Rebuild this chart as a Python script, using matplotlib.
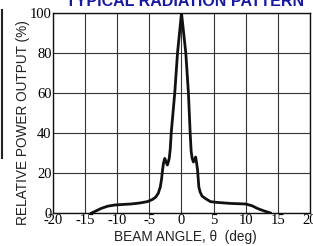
import numpy as np
import matplotlib
matplotlib.use("Agg")
import matplotlib.pyplot as plt
from matplotlib.lines import Line2D

# beam angle (deg) vs relative power (%)
angle = [-14.0, -13.2, -12.5, -11.5, -10.4, -9.0, -7.9, -6.5, -5.3, -4.5,
         -4.0, -3.6, -3.3, -3.1, -2.95, -2.8, -2.6, -2.4, -2.2, -2.05,
         -1.9, -1.75, -1.6, -1.05, -0.62, 0.0, 0.67, 1.08, 1.35, 1.5,
         1.65, 1.85, 2.05, 2.2, 2.35, 2.5, 2.7, 2.9, 3.2, 3.6,
         4.5, 5.5, 7.6, 10.0, 11.0, 11.8, 12.8, 13.85]
power = [0.0, 1.2, 2.3, 3.4, 4.0, 4.3, 4.5, 5.0, 5.7, 6.8,
         8.0, 10.0, 13.0, 17.0, 21.5, 25.0, 27.3, 25.5, 24.0, 25.5,
         27.5, 32.0, 40.0, 60.0, 80.0, 100.0, 80.0, 60.0, 40.0, 31.0,
         27.5, 25.5, 27.0, 28.0, 25.0, 21.5, 13.0, 10.5, 8.5, 7.5,
         5.7, 5.3, 4.8, 4.5, 3.6, 2.3, 1.1, 0.0]

x_ticks = [-20, -15, -10, -5, 0, 5, 10, 15, 20]
y_ticks = [0, 20, 40, 60, 80, 100]

fig = plt.figure(figsize=(3.13, 2.46), dpi=100)
ax = fig.add_axes([0.1693, 0.1341, 0.8211, 0.8130])

ax.plot(angle, power, color='#111111', lw=2.0, solid_joinstyle='round', zorder=3)

ax.set_xlim(-20, 20)
ax.set_ylim(0, 100)
ax.set_xticks(x_ticks)
ax.set_yticks(y_ticks)
ax.set_xticklabels([str(t) for t in x_ticks])
ax.set_yticklabels([str(t) for t in y_ticks])
ax.tick_params(length=0, pad=1)
for lab in ax.get_xticklabels() + ax.get_yticklabels():
    lab.set_fontfamily('Liberation Serif')
    lab.set_fontsize(10.5)
ax.grid(True, color='#333333', lw=0.8)
for s in ax.spines.values():
    s.set_color('#111111')
    s.set_linewidth(1.0)

fig.text(0.0735, 0.503, 'RELATIVE POWER OUTPUT (%)', rotation=90, ha='center', va='center',
         family='Liberation Sans', fontsize=9.8, color='#222222')
fig.text(0.591, 0.022, 'BEAM ANGLE, θ  (deg)', ha='center', va='baseline',
         family='Liberation Sans', fontsize=9.8, color='#222222')
fig.text(0.591, 0.977, 'TYPICAL RADIATION PATTERN', ha='center', va='baseline',
         family='Liberation Sans', fontweight='bold', fontsize=11.5, color='#1a1aa0')

# bit of a border left over at the left edge of the scan
fig.add_artist(Line2D([2 / 313, 2 / 313], [1 - 10 / 246, 1 - 158 / 246],
                      transform=fig.transFigure, color='#222222', lw=1.5))

fig.savefig('out.png', dpi=100)
